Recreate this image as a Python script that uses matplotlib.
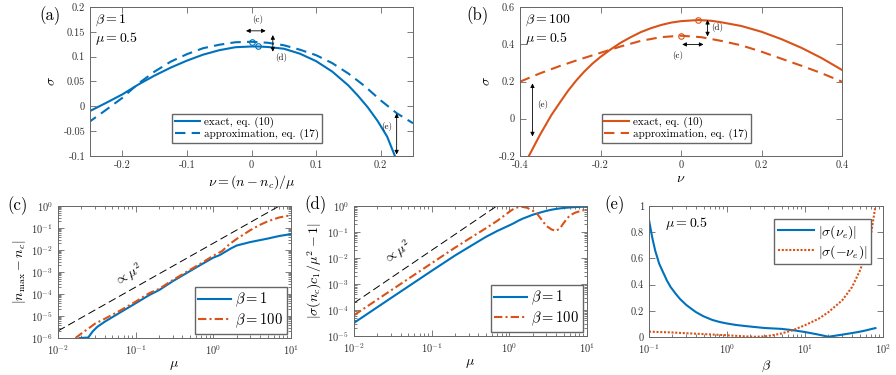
import numpy as np
import matplotlib
matplotlib.use("Agg")
import matplotlib.pyplot as plt
from matplotlib.ticker import FuncFormatter, LogLocator, NullFormatter

plt.rcParams['font.family'] = 'serif'
plt.rcParams['font.serif'] = ['cmr10', 'DejaVu Serif']
plt.rcParams['mathtext.fontset'] = 'cm'
plt.rcParams['axes.unicode_minus'] = False
plt.rcParams['axes.formatter.use_mathtext'] = True

blue = "#0072BD"
orange = "#D95319"
grey = "#666666"

# ---- panel (a): beta = 1, mu = 0.5
nu_a_ex = [-0.254, -0.225, -0.2, -0.175, -0.15, -0.125, -0.1, -0.075, -0.05, -0.025, 0.0, 0.0105,
           0.025, 0.05, 0.075, 0.1, 0.125, 0.15, 0.165, 0.18, 0.195, 0.21, 0.222]
sig_a_ex = [-0.012, 0.007, 0.024, 0.044, 0.062, 0.078, 0.092, 0.104, 0.113, 0.119, 0.1205, 0.1205,
            0.1195, 0.116, 0.106, 0.091, 0.070, 0.042, 0.021, -0.002, -0.029, -0.061, -0.1]
nu_a_ap = [-0.254, -0.225, -0.2, -0.175, -0.15, -0.125, -0.1, -0.075, -0.05, -0.025, 0.0,
           0.025, 0.05, 0.075, 0.1, 0.125, 0.15, 0.175, 0.2, 0.225, 0.25]
sig_a_ap = [-0.034, -0.007, 0.017, 0.046, 0.070, 0.090, 0.105, 0.117, 0.124, 0.129, 0.130,
            0.128, 0.123, 0.114, 0.103, 0.087, 0.066, 0.041, 0.012, -0.014, -0.034]
max_a_ex = (0.0105, 0.1205)
max_a_ap = (0.0, 0.130)

# ---- panel (b): beta = 100, mu = 0.5
nu_b_ex = [-0.378, -0.35, -0.322, -0.3, -0.28, -0.26, -0.24, -0.22, -0.2, -0.175, -0.15, -0.125, -0.1,
           -0.075, -0.05, -0.025, 0.0, 0.043, 0.075, 0.1, 0.15, 0.2, 0.25, 0.3, 0.35, 0.4]
sig_b_ex = [-0.2, -0.085, 0.02, 0.09, 0.152, 0.206, 0.254, 0.296, 0.332, 0.372, 0.408, 0.438, 0.465,
            0.486, 0.503, 0.516, 0.524, 0.53, 0.526, 0.518, 0.498, 0.467, 0.427, 0.38, 0.325, 0.262]
nu_b_ap = [-0.4, -0.35, -0.3, -0.25, -0.2, -0.15, -0.1, -0.05, 0.0, 0.05, 0.1, 0.15, 0.2, 0.25, 0.3, 0.35, 0.4]
sig_b_ap = [0.199, 0.244, 0.284, 0.32, 0.354, 0.388, 0.418, 0.438, 0.446, 0.438, 0.418, 0.394, 0.36, 0.322,
            0.284, 0.244, 0.199]
max_b_ex = (0.043, 0.53)
max_b_ap = (0.0, 0.446)

# ---- panel (c): |n_max - n_c| vs mu
mu_c1 = [0.019, 0.0245, 0.028, 0.032, 0.04, 0.06, 0.1, 0.15, 0.2, 0.3, 0.5, 0.7, 1.0, 1.2, 1.4,
         1.7, 2.0, 3.0, 5.0, 7.0, 10.0]
n_c1 = [1e-6, 1.05e-6, 2e-6, 3.2e-6, 5.5e-6, 1.3e-5, 3.8e-5, 9e-5, 1.5e-4, 3.8e-4, 1.1e-3, 2.2e-3,
        4.5e-3, 5.8e-3, 8e-3, 1.2e-2, 1.6e-2, 2.3e-2, 3.3e-2, 4.3e-2, 5.3e-2]
mu_c2 = [0.0168, 0.02, 0.025, 0.03, 0.04, 0.06, 0.1, 0.15, 0.2, 0.3, 0.5, 0.7, 1.0, 1.3, 1.6, 2.0,
         3.0, 4.0, 5.0, 7.0, 10.0]
n_c2 = [1e-6, 1.6e-6, 2.8e-6, 4.5e-6, 7.5e-6, 1.6e-5, 4.5e-5, 1.1e-4, 1.7e-4, 4.3e-4, 1.25e-3,
        2.5e-3, 5.5e-3, 9e-3, 1.8e-2, 3.2e-2, 8e-2, 0.14, 0.2, 0.3, 0.38]
mu_c_ref = [0.01, 7.07]
n_c_ref = [2.1e-6, 1.0]

# ---- panel (d): |sigma(n_c) c1 / mu^2 - 1| vs mu
mu_d = [0.01, 0.03, 0.1, 0.2, 0.3, 0.5, 0.7, 1.0, 1.15, 1.3, 1.5, 1.7, 2.0, 2.3, 2.6, 3.0, 3.5,
        4.0, 4.5, 5.0, 5.5, 6.0, 7.0, 8.5, 10.0]
d_1 = [3.2e-5, 2.9e-4, 3.2e-3, 1.25e-2, 2.6e-2, 6.5e-2, 0.11, 0.18, 0.22, 0.27, 0.33, 0.38, 0.46,
       0.52, 0.58, 0.65, 0.72, 0.77, 0.81, 0.84, 0.86, 0.88, 0.91, 0.93, 0.95]
d_100 = [6.3e-5, 5.7e-4, 6.3e-3, 2.5e-2, 5.4e-2, 0.14, 0.27, 0.6, 0.8, 0.9, 0.92, 0.85, 0.66,
         0.48, 0.3, 0.17, 0.125, 0.11, 0.14, 0.22, 0.32, 0.43, 0.55, 0.66, 0.74]
mu_d_ref = [0.01, 0.69]
d_ref = [1.86e-4, 1.0]

# ---- panel (e): mu = 0.5, vs beta
beta_e = [0.1, 0.11, 0.12, 0.135, 0.15, 0.17, 0.19, 0.22, 0.25, 0.3, 0.35, 0.4, 0.5, 0.65, 0.8, 1.0,
          1.3, 1.7, 2.2, 3.0, 4.0, 5.0, 7.0, 10.0, 15.0, 20.0, 30.0, 40.0, 50.0, 60.0, 70.0, 80.0]
e_pos = [0.893, 0.76, 0.66, 0.56, 0.5, 0.43, 0.38, 0.33, 0.29, 0.245, 0.215, 0.19, 0.158, 0.13,
         0.115, 0.103, 0.092, 0.084, 0.077, 0.069, 0.065, 0.062, 0.052, 0.038, 0.018, 0.002,
         0.018, 0.03, 0.04, 0.05, 0.06, 0.068]
e_neg = [0.041, 0.04, 0.039, 0.038, 0.037, 0.036, 0.035, 0.033, 0.031, 0.029, 0.027, 0.025, 0.022,
         0.019, 0.016, 0.013, 0.009, 0.005, 0.002, 0.004, 0.015, 0.027, 0.052, 0.09, 0.14, 0.19,
         0.28, 0.38, 0.5, 0.62, 0.78, 1.0]

W, H = 896, 375
fig = plt.figure(figsize=(W / 100, H / 100), dpi=100)


def box(l, r, t, b):
    return [l / W, 1 - b / H, (r - l) / W, (b - t) / H]


def style(ax):
    for s in ax.spines.values():
        s.set_color(grey)
        s.set_linewidth(0.7)
    ax.tick_params(which='both', direction='in', top=True, right=True,
                   color=grey, labelcolor="#333333", labelsize=7.5, width=0.6)
    ax.tick_params(which='major', length=4)
    ax.tick_params(which='minor', length=2)


fmt = FuncFormatter(lambda v, p: "%g" % round(v, 4))
dashdot = (0, (4, 1.5, 1, 1.5))


def dbl_arrow(ax, p0, p1):
    ax.annotate('', xy=p1, xytext=p0,
                arrowprops=dict(arrowstyle='<|-|>', color='black', lw=0.6,
                                mutation_scale=6, shrinkA=0, shrinkB=0))


def leg_small(ax):
    ax.legend(loc='lower right', fontsize=8, handlelength=2.2, fancybox=False,
              edgecolor=grey, framealpha=1, borderpad=0.25, labelspacing=0.1,
              handletextpad=0.4, bbox_to_anchor=(0.735, 0.05))


# (a)
ax = fig.add_axes(box(90, 413, 7, 156))
ax.plot(nu_a_ex, sig_a_ex, color=blue, lw=1.5, label="exact, eq. (10)")
ax.plot(nu_a_ap, sig_a_ap, color=blue, lw=1.5, ls=(0, (5, 3)), label="approximation, eq. (17)")
ax.plot(*max_a_ex, 'o', mfc='none', mec=blue, ms=4, mew=0.8)
ax.plot(*max_a_ap, 'o', mfc='none', mec=blue, ms=4, mew=0.8)
ax.set_xlim(-0.25, 0.25)
ax.set_ylim(-0.1, 0.2)
ax.set_xticks([-0.2, -0.1, 0, 0.1, 0.2])
ax.set_yticks(np.arange(-0.1, 0.21, 0.05))
ax.xaxis.set_major_formatter(fmt)
ax.yaxis.set_major_formatter(fmt)
dbl_arrow(ax, (-0.0085, 0.152), (0.022, 0.152))
ax.text(0.009, 0.165, "(c)", fontsize=6.5, ha='center', va='bottom')
dbl_arrow(ax, (0.033, 0.1435), (0.033, 0.11))
ax.text(0.036, 0.099, "(d)", fontsize=6.5, ha='left', va='center')
dbl_arrow(ax, (0.2247, -0.014), (0.2247, -0.097))
ax.text(0.218, -0.04, "(e)", fontsize=6.5, ha='right', va='center')
ax.text(0.015, 0.96, "$\\beta = 1$\n$\\mu = 0.5$", transform=ax.transAxes,
        ha='left', va='top', fontsize=10, linespacing=1.1)
ax.set_xlabel("$\\nu = (n - n_c)/\\mu$", fontsize=10, labelpad=2)
ax.set_ylabel("$\\sigma$", fontsize=10, labelpad=4)
leg_small(ax)
style(ax)
fig.text(50 / W, 1 - 16 / H, "(a)", fontsize=12, ha='center', va='center')

# (b)
ax = fig.add_axes(box(520, 842, 7, 156))
ax.plot(nu_b_ex, sig_b_ex, color=orange, lw=1.5, label="exact, eq. (10)")
ax.plot(nu_b_ap, sig_b_ap, color=orange, lw=1.5, ls=(0, (5, 3)), label="approximation, eq. (17)")
ax.plot(*max_b_ex, 'o', mfc='none', mec=orange, ms=4, mew=0.8)
ax.plot(*max_b_ap, 'o', mfc='none', mec=orange, ms=4, mew=0.8)
ax.set_xlim(-0.4, 0.4)
ax.set_ylim(-0.2, 0.6)
ax.set_xticks([-0.4, -0.2, 0, 0.2, 0.4])
ax.set_yticks([-0.2, 0, 0.2, 0.4, 0.6])
ax.xaxis.set_major_formatter(fmt)
ax.yaxis.set_major_formatter(fmt)
dbl_arrow(ax, (0.066, 0.531), (0.066, 0.442))
ax.text(0.074, 0.49, "(d)", fontsize=6.5, ha='left', va='center')
dbl_arrow(ax, (0.003, 0.399), (0.056, 0.399))
ax.text(-0.008, 0.34, "(c)", fontsize=6.5, ha='center', va='center')
dbl_arrow(ax, (-0.369, 0.19), (-0.369, -0.095))
ax.text(-0.345, 0.077, "(e)", fontsize=6.5, ha='center', va='center')
ax.text(0.015, 0.96, "$\\beta = 100$\n$\\mu = 0.5$", transform=ax.transAxes,
        ha='left', va='top', fontsize=10, linespacing=1.1)
ax.set_xlabel("$\\nu$", fontsize=10, labelpad=2)
ax.set_ylabel("$\\sigma$", fontsize=10, labelpad=4)
leg_small(ax)
style(ax)
fig.text(477 / W, 1 - 16 / H, "(b)", fontsize=12, ha='center', va='center')

# (c)
ax = fig.add_axes(box(58, 291, 206, 338))
ax.loglog(mu_c_ref, n_c_ref, color='black', lw=0.7, ls=(0, (8, 4)))
ax.loglog(mu_c1, n_c1, color=blue, lw=1.5, label="$\\beta = 1$")
ax.loglog(mu_c2, n_c2, color=orange, lw=1.5, ls=dashdot, label="$\\beta = 100$")
ax.set_xlim(1e-2, 1e1)
ax.set_ylim(1e-6, 1e0)
ax.yaxis.set_major_locator(LogLocator(base=10, numticks=10))
ax.yaxis.set_minor_formatter(NullFormatter())
ax.text(0.082, 7e-4, "$\\propto \\mu^2$", fontsize=10, rotation=30,
        ha='center', va='center')
ax.set_xlabel("$\\mu$", fontsize=10, labelpad=2)
ax.set_ylabel("$|n_{\\max} - n_c|$", fontsize=10, labelpad=2)
ax.legend(loc='lower right', fontsize=10.5, handlelength=2.2, fancybox=False,
          edgecolor=grey, framealpha=1, borderpad=0.25, labelspacing=0.15,
          handletextpad=0.3, borderaxespad=0.3)
style(ax)
fig.text(18 / W, 1 - 206 / H, "(c)", fontsize=12, ha='center', va='center')

# (d)
ax = fig.add_axes(box(354, 587, 206, 336))
ax.loglog(mu_d_ref, d_ref, color='black', lw=0.7, ls=(0, (8, 4)))
ax.loglog(mu_d, d_1, color=blue, lw=1.5, label="$\\beta = 1$")
ax.loglog(mu_d, d_100, color=orange, lw=1.5, ls=dashdot, label="$\\beta = 100$")
ax.set_xlim(1e-2, 1e1)
ax.set_ylim(1e-5, 1e0)
ax.yaxis.set_major_locator(LogLocator(base=10, numticks=10))
ax.text(0.037, 0.016, "$\\propto \\mu^2$", fontsize=10, rotation=34,
        ha='center', va='center')
ax.set_xlabel("$\\mu$", fontsize=10, labelpad=2)
ax.set_ylabel("$|\\sigma(n_c)c_1/\\mu^2 - 1|$", fontsize=10, labelpad=2)
ax.legend(loc='lower right', fontsize=10.5, handlelength=2.2, fancybox=False,
          edgecolor=grey, framealpha=1, borderpad=0.25, labelspacing=0.15,
          handletextpad=0.3, borderaxespad=0.3)
style(ax)
fig.text(315 / W, 1 - 205 / H, "(d)", fontsize=12, ha='center', va='center')

# (e)
ax = fig.add_axes(box(649, 883, 206, 337))
ax.semilogx(beta_e, e_pos, color=blue, lw=1.5, label="$|\\sigma(\\nu_e)|$")
ax.semilogx(beta_e, e_neg, color=orange, lw=1.5, ls=(0, (1, 0.8)), label="$|\\sigma(-\\nu_e)|$")
ax.set_xlim(1e-1, 1e2)
ax.set_ylim(0, 1)
ax.set_yticks([0, 0.2, 0.4, 0.6, 0.8, 1])
ax.yaxis.set_major_formatter(fmt)
ax.text(0.07, 0.87, "$\\mu = 0.5$", transform=ax.transAxes, fontsize=10,
        ha='left', va='center')
ax.set_xlabel("$\\beta$", fontsize=10, labelpad=2)
ax.legend(loc='upper right', fontsize=10, handlelength=2.6, fancybox=False,
          edgecolor=grey, framealpha=1, borderpad=0.25, labelspacing=0.15,
          handletextpad=0.3, bbox_to_anchor=(0.98, 0.95))
style(ax)
fig.text(615 / W, 1 - 205 / H, "(e)", fontsize=12, ha='center', va='center')

fig.savefig("out.png", dpi=100)
